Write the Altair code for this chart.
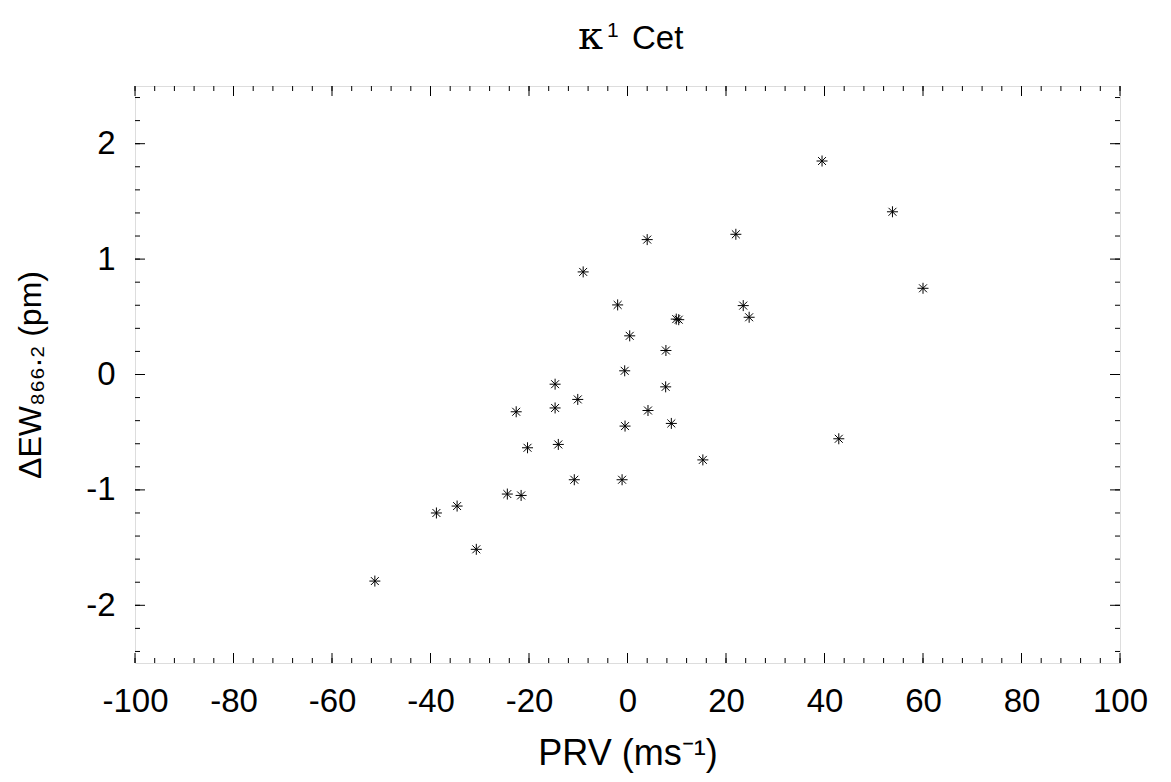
import altair as alt
import pandas as pd

prv = [-51.3, -38.8, -34.6, -30.7, -24.4, -21.6, -22.6, -20.3, -14.7, -14.7,
       -14.05, -10.1, -10.8, -9.0, -2.0, -1.1, -0.5, -0.57, 0.45, 4.0,
       4.16, 7.8, 7.75, 8.9, 9.9, 10.4, 15.3, 22.0, 23.5, 24.7,
       39.5, 42.9, 53.8, 60.0]
dew = [-1.79, -1.20, -1.14, -1.515, -1.036, -1.048, -0.323, -0.635, -0.084, -0.29,
       -0.606, -0.216, -0.912, 0.889, 0.603, -0.912, -0.447, 0.032, 0.335, 1.169,
       -0.312, 0.208, -0.107, -0.424, 0.48, 0.475, -0.74, 1.215, 0.597, 0.496,
       1.85, -0.557, 1.41, 0.747]

x_major = [-100, -80, -60, -40, -20, 0, 20, 40, 60, 80, 100]
x_minor = list(range(-100, 101, 4))
y_major = [-2, -1, 0, 1, 2]
y_minor = [round(-2.4 + 0.2 * i, 1) for i in range(25)]

title_parts = ["κ", "1", "Cet"]

W, H = 985, 577
FONT = "Liberation Sans"
FS = 33

df = pd.DataFrame({"prv": prv, "dew": dew})
xs = alt.Scale(domain=[-100, 100], nice=False, zero=False)
ys = alt.Scale(domain=[-2.5, 2.5], nice=False, zero=False)

star = "M-1,0H1M0,-1V1M-0.72,-0.72L0.72,0.72M-0.72,0.72L0.72,-0.72"

points = alt.Chart(df).mark_point(
    shape=star, size=121, filled=False, stroke="black", strokeWidth=1, opacity=1
).encode(
    x=alt.X("prv:Q", scale=xs, title="PRV (ms⁻¹)",
            axis=alt.Axis(values=x_major, ticks=False, domain=False, grid=False,
                          labelExpr="'' + datum.value", labelOverlap=False,
                          labelFlush=False,
                          labelFont=FONT, labelFontSize=FS, labelColor="black",
                          labelPadding=22, titleFont=FONT, titleFontSize=36,
                          titleFontWeight="normal", titleColor="black", titlePadding=18)),
    y=alt.Y("dew:Q", scale=ys, title="ΔEW₈₆₆.₂ (pm)",
            axis=alt.Axis(values=y_major, ticks=False, domain=False, grid=False,
                          labelExpr="'' + datum.value", labelOverlap=False,
                          labelFlush=False,
                          labelFont=FONT, labelFontSize=FS, labelColor="black",
                          labelPadding=20, titleFont=FONT, titleFontSize=32,
                          titleFontWeight="normal", titleColor="black", titlePadding=38)),
)

def xticks(vals, length):
    d = pd.DataFrame({"v": vals})
    bot = alt.Chart(d).mark_rule(color="black", strokeWidth=1).encode(
        x=alt.X("v:Q", scale=xs), y=alt.value(H), y2=alt.value(H - length))
    top = alt.Chart(d).mark_rule(color="black", strokeWidth=1).encode(
        x=alt.X("v:Q", scale=xs), y=alt.value(0), y2=alt.value(length))
    return [bot, top]

def yticks(vals, length):
    d = pd.DataFrame({"v": vals})
    left = alt.Chart(d).mark_rule(color="black", strokeWidth=1).encode(
        y=alt.Y("v:Q", scale=ys), x=alt.value(0), x2=alt.value(length))
    right = alt.Chart(d).mark_rule(color="black", strokeWidth=1).encode(
        y=alt.Y("v:Q", scale=ys), x=alt.value(W), x2=alt.value(W - length))
    return [left, right]

def title_text(txt, font, size, x, y):
    return alt.Chart(pd.DataFrame({"t": [txt]})).mark_text(
        font=font, fontSize=size, align="left", baseline="alphabetic", color="black"
    ).encode(text="t:N", x=alt.value(x), y=alt.value(y))

titles = [
    title_text(title_parts[0], "DejaVu Serif", 40, 443, -37),
    title_text(title_parts[1], FONT, 21, 472, -49),
    title_text(title_parts[2], FONT, FS, 497, -37),
]

layers = (xticks(x_minor, 5) + xticks(x_major, 10) + yticks(y_minor, 5)
          + yticks(y_major, 10) + [points] + titles)

chart = alt.layer(*layers).properties(
    width=W, height=H,
    autosize=alt.AutoSizeParams(type="none"),
    padding={"left": 127, "top": 78, "right": 40, "bottom": 115},
).configure_view(
    stroke="black", strokeWidth=2, fill="white"
).configure(background="white")

chart.save("out.html", embed_options={"renderer": "svg", "actions": False})
